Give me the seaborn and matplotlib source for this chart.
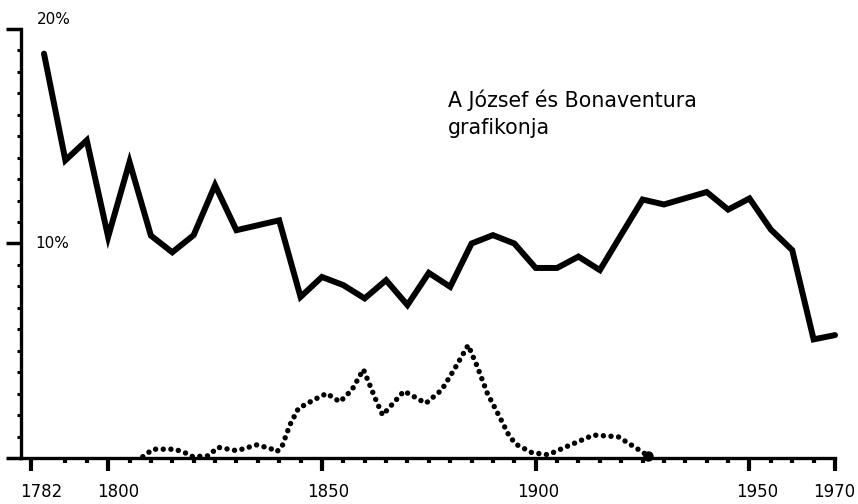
import matplotlib
matplotlib.use("Agg")
import matplotlib.pyplot as plt
import matplotlib.transforms as mtransforms
import seaborn as sns
import pandas as pd

# ---- data ----
years = [1785, 1790, 1795, 1800, 1805, 1810, 1815, 1820, 1825, 1830,
         1835, 1840, 1845, 1850, 1855, 1860, 1865, 1870, 1875, 1880,
         1885, 1890, 1895, 1900, 1905, 1910, 1915, 1920, 1925, 1930,
         1935, 1940, 1945, 1950, 1955, 1960, 1965, 1970]
share_solid = [18.85, 13.88, 14.81, 10.31, 13.80, 10.37, 9.59, 10.39, 12.72, 10.62,
               10.85, 11.08, 7.51, 8.44, 8.06, 7.44, 8.29, 7.13, 8.63, 7.98,
               10.00, 10.39, 10.00, 8.86, 8.86, 9.39, 8.76, 10.41, 12.05, 11.82,
               12.11, 12.40, 11.58, 12.10, 10.65, 9.69, 5.53, 5.73]

dot_years = [1808.1, 1810.5, 1815.6, 1818.7, 1819.8, 1823.4, 1825.7, 1830.1, 1834.7,
             1837.9, 1839.4, 1840.6, 1842.5, 1844.5, 1848.0, 1851.1, 1854.2, 1857.0,
             1859.7, 1862.8, 1864.2, 1869.2, 1874.3, 1878.0, 1881.1, 1884.2, 1886.3,
             1888.7, 1891.6, 1893.7, 1895.3, 1899.1, 1902.9, 1907.2, 1913.5, 1919.3,
             1923.6, 1926.3]
dot_values = [0.06, 0.41, 0.41, 0.19, 0.06, 0.10, 0.50, 0.34, 0.61,
              0.45, 0.29, 0.50, 1.54, 2.31, 2.70, 3.01, 2.62, 3.17,
              4.13, 2.62, 2.00, 3.12, 2.55, 3.17, 4.18, 5.26, 4.28,
              3.01, 1.90, 1.07, 0.65, 0.25, 0.15, 0.53, 1.07, 0.99,
              0.45, 0.10]

x_major_ticks = [1782, 1800, 1850, 1900, 1950, 1970]
x_major_labels = ["1782", "1800", "1850", "1900", "1950", "1970"]
x_minor_ticks = [1790, 1795, 1805, 1810, 1815, 1820, 1825, 1830, 1835, 1840, 1845,
                 1855, 1860, 1865, 1870, 1875, 1880, 1885, 1890, 1895, 1905,
                 1910, 1915, 1920, 1925, 1930, 1935, 1940, 1945, 1955, 1960, 1965]
y_major_ticks = [0, 10, 20]
y_minor_ticks = [1, 2, 3, 4, 5, 6, 7, 8, 9, 11, 12, 13, 14, 15, 16, 17, 18, 19]
y_labels = ["10%", "20%"]
note_line1 = "A József és Bonaventura"
note_line2 = "grafikonja"

solid_df = pd.DataFrame({"year": years, "share": share_solid})
dot_df = pd.DataFrame({"year": dot_years, "share": dot_values})

sns.set_style("ticks")
plt.rcParams["font.family"] = ["DejaVu Sans"]

fig = plt.figure(figsize=(8.58, 5.04), dpi=100)
fig.patch.set_facecolor("white")
ax = fig.add_axes([21 / 858, 46 / 504, 814 / 858, 429 / 504])

sns.lineplot(data=solid_df, x="year", y="share", ax=ax, color="black",
             linewidth=4.3, estimator=None, clip_on=False,
             solid_joinstyle="miter")
sns.lineplot(data=dot_df, x="year", y="share", ax=ax, color="black",
             linewidth=3.9, estimator=None, clip_on=False,
             linestyle=(0, (0.01, 1.4)), dash_capstyle="round")
ax.plot(dot_years[-1], dot_values[-1], "o", color="black", ms=6.5, clip_on=False)

ax.set_xlim(1779.62, 1970)
ax.set_ylim(0, 20)
ax.set_xlabel("")
ax.set_ylabel("")

for side in ["top", "right"]:
    ax.spines[side].set_visible(False)
for side in ["left", "bottom"]:
    ax.spines[side].set_linewidth(2.4)
    ax.spines[side].set_color("black")

ax.set_xticks(x_major_ticks)
ax.set_xticklabels(x_major_labels, fontsize=12)
ax.set_xticks(x_minor_ticks, minor=True)
ax.tick_params(axis="x", which="major", bottom=True, direction="out", length=9,
               width=3, pad=9, color="black", labelcolor="black")
ax.tick_params(axis="x", which="minor", bottom=True, direction="out", length=3.5,
               width=3, color="black")
label_shift_px = [10, 10, 6, 2, 8, -1]
for lab, dx in zip(ax.get_xticklabels(), label_shift_px):
    off = mtransforms.ScaledTranslation(dx / 100, 0, fig.dpi_scale_trans)
    lab.set_transform(lab.get_transform() + off)

ax.set_yticks(y_major_ticks)
ax.set_yticklabels([])
ax.set_yticks(y_minor_ticks, minor=True)
ax.tick_params(axis="y", which="major", left=True, direction="out", length=11,
               width=2.5, color="black")
ax.tick_params(axis="y", which="minor", left=True, direction="out", length=2.8,
               width=2.2, color="black")

ax.text(1782.9, 10, y_labels[0], fontsize=11, ha="left", va="center", color="black")
ax.text(1783.4, 20.45, y_labels[1], fontsize=11, ha="left", va="center",
        color="black", clip_on=False)

ax.text(1879.5, 16.36, note_line1, fontsize=14.8, family="DejaVu Sans",
        ha="left", va="baseline", color="black")
ax.text(1879.5, 15.12, note_line2, fontsize=14.8, family="DejaVu Sans",
        ha="left", va="baseline", color="black")

fig.savefig("out.png", dpi=100, facecolor="white")
